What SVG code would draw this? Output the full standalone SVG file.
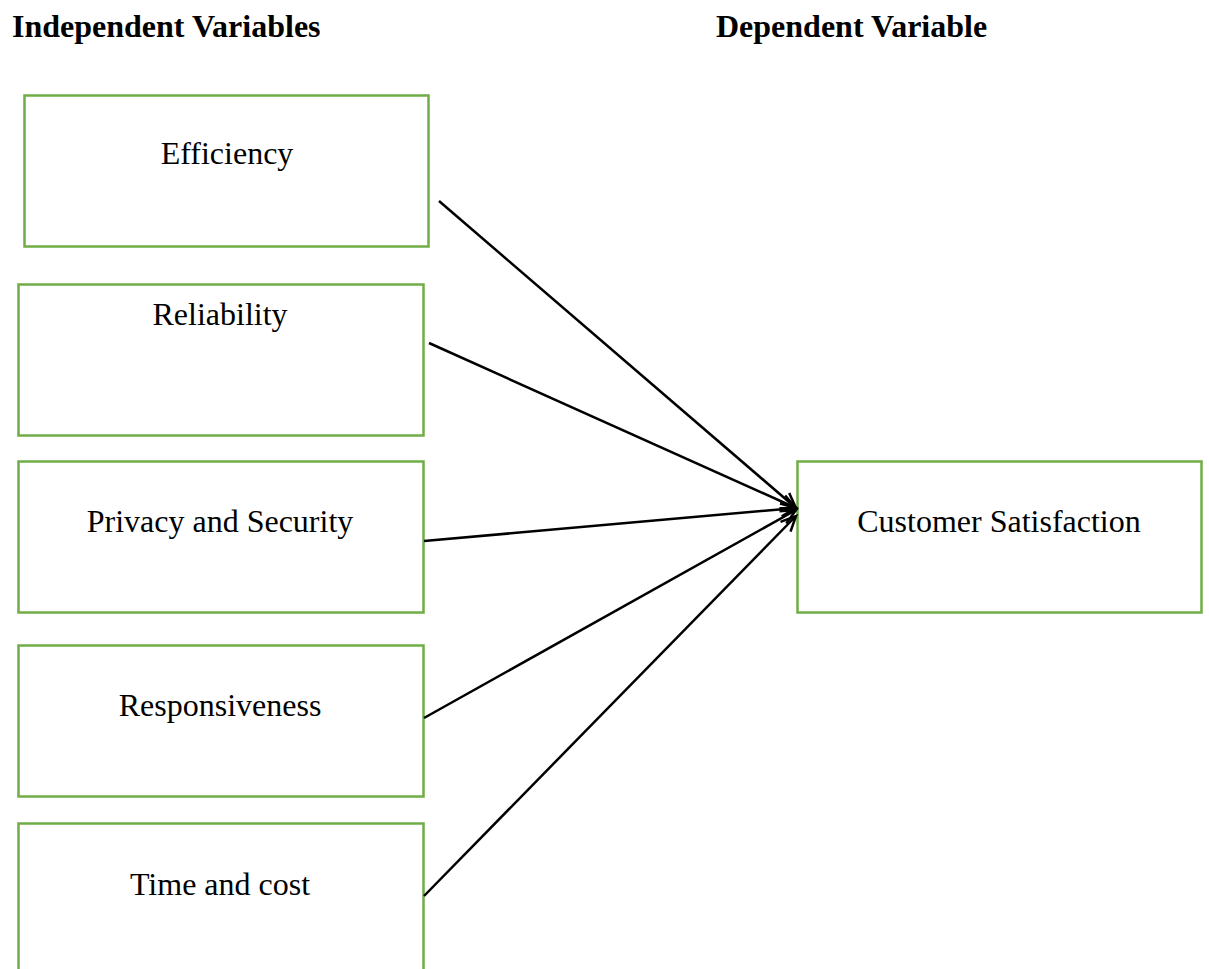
<svg xmlns="http://www.w3.org/2000/svg" width="1209" height="969" viewBox="0 0 1209 969">
<style>
.box{fill:#fff;stroke:#70AD47;stroke-width:2.5}
.lbl{font-family:"Liberation Serif","Times New Roman",serif;font-size:32px;fill:#000;text-anchor:middle}
.hdr{font-family:"Liberation Serif","Times New Roman",serif;font-size:32px;font-weight:bold;fill:#000}
.conn{stroke:#000;stroke-width:2.5;fill:none;marker-end:url(#arr)}
</style>
<defs>
<marker id="arr" markerWidth="20" markerHeight="18" refX="16" refY="8" orient="auto" markerUnits="userSpaceOnUse" viewBox="0 0 20 16">
<path d="M1,1 L16,8 L1,15" fill="none" stroke="#000" stroke-width="2.5"/>
</marker>
</defs>
<rect width="1209" height="969" fill="#fff"/>
<text class="hdr" x="12" y="37">Independent Variables</text>
<text class="hdr" x="716" y="37">Dependent Variable</text>
<g id="efficiency"><rect class="box" x="24.5" y="95.5" width="404" height="151"/><text class="lbl" x="227" y="164">Efficiency</text></g>
<g id="reliability"><rect class="box" x="18.5" y="284.5" width="405" height="151"/><text class="lbl" x="220" y="325">Reliability</text></g>
<g id="privacy"><rect class="box" x="18.5" y="461.5" width="405" height="151"/><text class="lbl" x="220" y="532">Privacy and Security</text></g>
<g id="responsiveness"><rect class="box" x="18.5" y="645.5" width="405" height="151"/><text class="lbl" x="220" y="716">Responsiveness</text></g>
<g id="timecost"><rect class="box" x="18.5" y="823.5" width="405" height="200"/><text class="lbl" x="220" y="895">Time and cost</text></g>
<g id="satisfaction"><rect class="box" x="797.5" y="461.5" width="404" height="151"/><text class="lbl" x="999" y="532">Customer Satisfaction</text></g>
<g id="connectors">
<line class="conn" x1="439" y1="201" x2="796" y2="508"/>
<line class="conn" x1="429" y1="343" x2="796" y2="508"/>
<line class="conn" x1="424" y1="541" x2="796" y2="508"/>
<line class="conn" x1="424" y1="718" x2="796" y2="510"/>
<line class="conn" x1="424" y1="896" x2="796" y2="516"/>
</g>
</svg>
